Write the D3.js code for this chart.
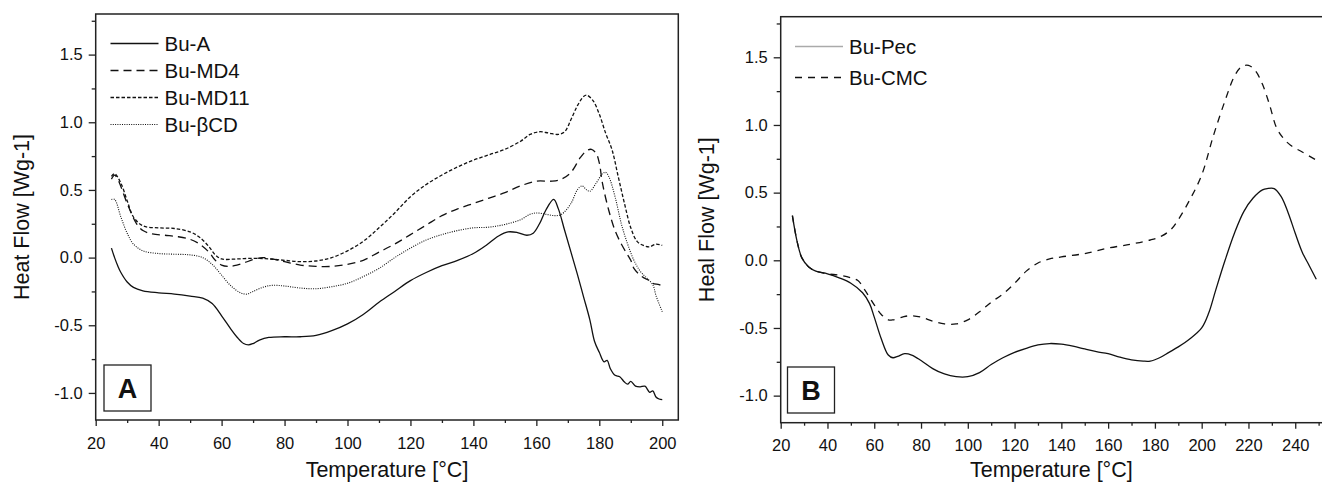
<!DOCTYPE html>
<html>
<head>
<meta charset="utf-8">
<script src="https://cdn.jsdelivr.net/npm/d3@7"></script>
<style>
  body { margin: 0; background: #fff; }
  svg { display: block; }
  text { font-family: "Liberation Sans", Arial, sans-serif; fill: #111; }
</style>
</head>
<body>
<svg width="1322" height="486"></svg>
<script>
// ---- panel A data: [temperature °C, heat flow W/g]
const buA = [[25,0.07],[26,0.0],[27,-0.06],[28,-0.11],[30,-0.18],[32,-0.22],[35,-0.245],[40,-0.26],[45,-0.27],[50,-0.285],[54,-0.3],[57,-0.34],[60,-0.43],[63,-0.53],[65,-0.59],[67,-0.635],[68.5,-0.645],[70,-0.635],[72,-0.61],[75,-0.59],[80,-0.585],[85,-0.585],[90,-0.575],[95,-0.54],[100,-0.49],[105,-0.42],[110,-0.33],[115,-0.25],[120,-0.17],[125,-0.11],[130,-0.06],[135,-0.02],[140,0.03],[144,0.09],[148,0.16],[151,0.19],[154,0.185],[157,0.165],[159,0.18],[161,0.25],[163,0.35],[165.5,0.43],[167,0.36],[169,0.2],[171,0.04],[173,-0.12],[175,-0.29],[177,-0.46],[178.5,-0.62],[180,-0.7],[181.5,-0.77],[182.5,-0.76],[183.5,-0.82],[185,-0.87],[186.5,-0.88],[188,-0.92],[189,-0.935],[190,-0.915],[191.5,-0.95],[193,-0.955],[194.5,-0.95],[196,-0.995],[197,-0.985],[198,-1.03],[199,-1.045],[200,-1.05]];
const buMD4 = [[25,0.58],[26,0.61],[27,0.58],[30,0.4],[33,0.25],[35,0.2],[38,0.175],[42,0.165],[46,0.155],[50,0.135],[53,0.1],[56,0.04],[58,-0.02],[60,-0.055],[62,-0.065],[64,-0.06],[67,-0.04],[70,-0.015],[73,0.0],[76,-0.01],[80,-0.03],[85,-0.055],[90,-0.065],[95,-0.065],[100,-0.05],[105,-0.02],[110,0.04],[115,0.1],[120,0.17],[125,0.24],[130,0.31],[135,0.36],[140,0.4],[145,0.44],[150,0.48],[155,0.53],[160,0.565],[165,0.565],[168,0.58],[171,0.63],[174,0.74],[176,0.79],[177.5,0.8],[179,0.77],[180,0.7],[181,0.55],[183,0.35],[185,0.2],[187,0.1],[189,0.02],[190,-0.02],[191,-0.08],[193,-0.13],[195,-0.16],[196,-0.17],[197,-0.19],[199,-0.2],[200,-0.21]];
const buMD11 = [[25,0.6],[26,0.62],[28,0.55],[30,0.42],[32,0.3],[35,0.235],[40,0.22],[45,0.215],[50,0.19],[53,0.15],[56,0.08],[58,0.02],[60,-0.01],[65,-0.01],[70,-0.005],[75,-0.01],[80,-0.02],[85,-0.03],[90,-0.025],[95,0.0],[100,0.05],[105,0.12],[110,0.22],[115,0.33],[120,0.45],[125,0.54],[130,0.61],[135,0.67],[140,0.72],[145,0.76],[150,0.8],[155,0.86],[158,0.91],[161,0.93],[164,0.92],[167,0.91],[169,0.93],[171,1.02],[173,1.12],[175,1.19],[176,1.2],[178,1.16],[180,1.06],[182,0.92],[184,0.8],[186,0.6],[188,0.4],[190,0.22],[192,0.12],[194,0.09],[196,0.08],[198,0.1],[200,0.09]];
const buBCD = [[25,0.43],[26,0.43],[28,0.3],[30,0.18],[32,0.1],[35,0.05],[40,0.03],[45,0.025],[50,0.02],[54,0.0],[57,-0.05],[60,-0.13],[63,-0.21],[66,-0.26],[68,-0.27],[70,-0.25],[73,-0.22],[76,-0.205],[80,-0.21],[85,-0.225],[90,-0.23],[95,-0.215],[100,-0.19],[105,-0.14],[110,-0.08],[115,0.0],[120,0.07],[125,0.13],[130,0.17],[135,0.2],[140,0.22],[145,0.225],[150,0.245],[155,0.28],[158,0.32],[160,0.33],[163,0.32],[166,0.31],[168,0.32],[171,0.4],[173,0.5],[174.5,0.53],[176,0.5],[177,0.49],[179,0.55],[181,0.62],[182,0.63],[183,0.6],[185,0.45],[187,0.25],[189,0.1],[191,-0.02],[193,-0.1],[195,-0.15],[197,-0.2],[198,-0.28],[200,-0.4]];

// ---- panel B data
const buPec = [[25,0.33],[27,0.14],[29,0.02],[32,-0.05],[35,-0.08],[40,-0.1],[45,-0.13],[50,-0.17],[55,-0.24],[58,-0.32],[60,-0.42],[63,-0.58],[66,-0.7],[68,-0.72],[70,-0.71],[73,-0.69],[76,-0.7],[80,-0.74],[85,-0.8],[90,-0.84],[95,-0.86],[100,-0.86],[105,-0.83],[110,-0.77],[115,-0.72],[120,-0.68],[125,-0.65],[130,-0.625],[135,-0.615],[140,-0.62],[145,-0.635],[150,-0.655],[155,-0.675],[160,-0.69],[165,-0.715],[170,-0.735],[175,-0.745],[178,-0.745],[182,-0.72],[186,-0.68],[190,-0.64],[195,-0.58],[200,-0.5],[203,-0.39],[206,-0.22],[210,0.0],[214,0.2],[218,0.36],[222,0.46],[226,0.52],[228,0.53],[231,0.53],[234,0.47],[237,0.35],[240,0.2],[243,0.06],[246,-0.04],[249,-0.14]];
const buCMC = [[25,0.33],[27,0.14],[29,0.02],[32,-0.05],[35,-0.08],[40,-0.1],[45,-0.11],[50,-0.13],[53,-0.15],[56,-0.22],[60,-0.33],[63,-0.4],[66,-0.44],[68,-0.44],[72,-0.42],[75,-0.41],[80,-0.42],[85,-0.45],[90,-0.47],[95,-0.47],[100,-0.44],[105,-0.38],[110,-0.31],[115,-0.25],[120,-0.17],[125,-0.08],[130,-0.02],[135,0.01],[140,0.025],[150,0.05],[160,0.09],[170,0.12],[178,0.15],[183,0.18],[187,0.23],[190,0.3],[195,0.45],[200,0.63],[205,0.92],[210,1.18],[214,1.36],[217,1.43],[220,1.44],[223,1.4],[226,1.3],[229,1.15],[232,0.98],[235,0.9],[238,0.85],[243,0.8],[249,0.74]];

const xTicksA = [20, 40, 60, 80, 100, 120, 140, 160, 180, 200];
const xTicksB = [20, 40, 60, 80, 100, 120, 140, 160, 180, 200, 220, 240];
const yTicks = [-1.0, -0.5, 0.0, 0.5, 1.0, 1.5];

const svg = d3.select("svg");
const fmt = d => d.toFixed(1).replace("\u2212", "-");

function drawPanel(p) {
  const x = d3.scaleLinear().domain(p.xDomain).range([p.left, p.right]);
  const y = d3.scaleLinear().domain([-1.2, 1.8]).range([p.bottom, p.top]);
  const g = svg.append("g");

  // minor ticks
  const xMinor = d3.range(p.xDomain[0] + 10, p.xDomain[1], 20);
  const yMinor = d3.range(-0.75, 1.8, 0.5);
  g.append("g").attr("transform", `translate(0,${p.bottom})`)
    .call(d3.axisBottom(x).tickValues(xMinor).tickSize(3).tickFormat(""))
    .call(a => a.select(".domain").remove());
  g.append("g").attr("transform", `translate(${p.left},0)`)
    .call(d3.axisLeft(y).tickValues(yMinor).tickSize(4).tickFormat(""))
    .call(a => a.select(".domain").remove());

  // major ticks
  const xa = g.append("g").attr("transform", `translate(0,${p.bottom})`)
    .call(d3.axisBottom(x).tickValues(p.xTicks).tickSize(6).tickPadding(11).tickFormat(d3.format("d")));
  xa.select(".domain").remove();
  xa.selectAll("text").attr("font-size", 16.5).style("font-family", "Liberation Sans, Arial");
  const ya = g.append("g").attr("transform", `translate(${p.left},0)`)
    .call(d3.axisLeft(y).tickValues(yTicks).tickSize(7).tickPadding(6).tickFormat(fmt));
  ya.select(".domain").remove();
  ya.selectAll("text").attr("font-size", 16.5).style("font-family", "Liberation Sans, Arial");
  g.selectAll(".tick line").attr("stroke", "#222").attr("stroke-width", 1.3);

  // frame
  g.append("rect")
    .attr("x", p.left).attr("y", p.top)
    .attr("width", x(p.xDomain[1]) - p.left).attr("height", p.bottom - p.top)
    .attr("fill", "none").attr("stroke", "#222").attr("stroke-width", 1.5);

  // curves
  const line = d3.line().x(d => x(d[0])).y(d => y(d[1])).curve(d3.curveCatmullRom.alpha(0.5));
  p.series.forEach(s => {
    g.append("path").datum(s.data)
      .attr("d", line)
      .attr("fill", "none")
      .attr("stroke", "#111")
      .attr("stroke-width", s.width || 1.3)
      .attr("stroke-dasharray", s.dash || null);
  });

  // legend
  p.series.forEach((s, i) => {
    const ly = p.legY + i * p.legStep;
    g.append("line")
      .attr("x1", p.legX).attr("x2", p.legX + 48)
      .attr("y1", ly).attr("y2", ly)
      .attr("stroke", s.legColor || "#111")
      .attr("stroke-width", s.legColor ? 1.6 : (s.width || 1.3))
      .attr("stroke-dasharray", s.dash || null);
    g.append("text")
      .attr("x", p.legX + 54).attr("y", ly + 7.5)
      .attr("font-size", 20.5)
      .text(s.name);
  });

  // panel letter box
  g.append("rect")
    .attr("x", p.boxX).attr("y", p.boxY).attr("width", 47).attr("height", 46)
    .attr("fill", "#fff").attr("stroke", "#222").attr("stroke-width", 1.3);
  g.append("text")
    .attr("x", p.boxX + 23.5).attr("y", p.boxY + 33)
    .attr("text-anchor", "middle")
    .attr("font-size", 27).attr("font-weight", "bold")
    .text(p.letter);

  // axis titles
  g.append("text")
    .attr("x", (p.left + p.titleRight) / 2).attr("y", 477)
    .attr("text-anchor", "middle").attr("font-size", 21.5)
    .text("Temperature [°C]");
  g.append("text")
    .attr("transform", `translate(${p.left - 67},${(p.top + p.bottom) / 2}) rotate(-90)`)
    .attr("text-anchor", "middle").attr("font-size", 21.5)
    .text(p.yTitle);
}

drawPanel({
  left: 95.7, right: 678.3, top: 14, bottom: 420,
  xDomain: [20, 205.1], xTicks: xTicksA, titleRight: 678.3,
  yTitle: "Heat Flow [Wg-1]",
  series: [
    { name: "Bu-A", data: buA },
    { name: "Bu-MD4", data: buMD4, dash: "8,5" },
    { name: "Bu-MD11", data: buMD11, dash: "3.5,2" },
    { name: "Bu-\u03B2CD", data: buBCD, dash: "1,1.3", width: 1.1 }
  ],
  legX: 110.5, legY: 43.5, legStep: 27,
  letter: "A", boxX: 104, boxY: 365
});

drawPanel({
  left: 780.7, right: 1323.3, top: 16.7, bottom: 422.7,
  xDomain: [20, 252], xTicks: xTicksB, titleRight: 1322,
  yTitle: "Heal Flow [Wg-1]",
  series: [
    { name: "Bu-Pec", data: buPec, legColor: "#aaa" },
    { name: "Bu-CMC", data: buCMC, dash: "7,6" }
  ],
  legX: 795, legY: 46.5, legStep: 31,
  letter: "B", boxX: 787.5, boxY: 367
});
</script>
</body>
</html>
